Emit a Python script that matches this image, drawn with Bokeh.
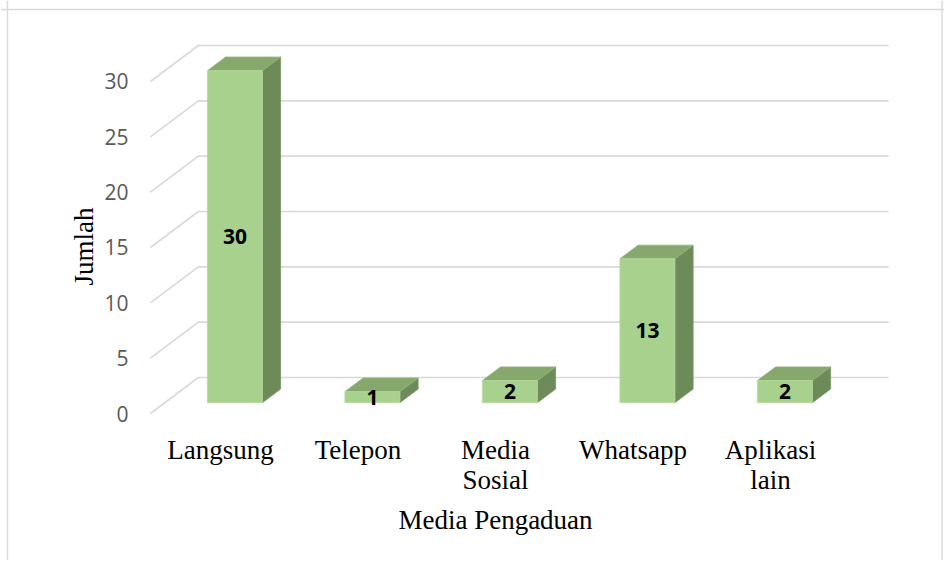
import numpy as np
from bokeh.plotting import figure
from bokeh.models import Range1d, Span
from bokeh.core.properties import value
from bokeh.embed import file_html
from bokeh.resources import INLINE

# ---- data ----
categories = ["Langsung", "Telepon", "Media\nSosial", "Whatsapp", "Aplikasi\nlain"]
jumlah = [30, 1, 2, 13, 2]
y_ticks = [0, 5, 10, 15, 20, 25, 30]
y_title = "Jumlah"
x_title = "Media Pengaduan"

# ---- layout (pixel calibration of the oblique 3D projection) ----
W, H = 944, 560
OFF = 0                 # bokeh page has no body margin
PX_X = 137.5            # px per category
PX_Y = 11.0667          # px per unit of value
X0_IMG, Y0_IMG = 220, 413


def ix(px):
    return (px - X0_IMG) / PX_X


def vy(py):
    return (Y0_IMG - py) / PX_Y


DX = 48 / PX_X          # full depth, in data units
DY = 36 / PX_Y
F_D, B_D = 0.30, 0.68   # bar front/back depth fractions
HW = 0.2                # half bar width
XL, XR = -0.51, 4.51

p = figure(width=W, height=H, output_backend="svg", toolbar_location=None,
           x_range=Range1d(ix(OFF), ix(OFF + W)),
           y_range=Range1d(vy(OFF + H), vy(OFF)),
           min_border=0, min_border_left=0, min_border_right=0,
           min_border_top=0, min_border_bottom=0)
p.axis.visible = False
p.grid.visible = False
p.outline_line_color = None
p.background_fill_color = "white"
p.border_fill_color = "white"

# chart border (left, top, right)
bc = "#d9d9d9"
p.add_layout(Span(location=ix(7), dimension="height", line_color=bc, line_width=1.4))
p.add_layout(Span(location=vy(9), dimension="width", line_color=bc, line_width=1.4))
p.add_layout(Span(location=ix(941.5), dimension="height", line_color=bc, line_width=1.4))

# gridlines: side-wall diagonal + back wall horizontal
gx = [[XL, XL + DX, XR + DX] for t in y_ticks]
gy = [[t, t + DY, t + DY] for t in y_ticks]
p.multi_line(gx, gy, line_color="#d9d9d9", line_width=1.6)

# bars
front_xs, front_ys, top_xs, top_ys, side_xs, side_ys = [], [], [], [], [], []
lab_x, lab_y, lab_t = [], [], []
dd = B_D - F_D
for i, v in enumerate(jumlah):
    cx = i + F_D * DX
    y0 = F_D * DY
    y1 = v + F_D * DY
    l, r = cx - HW, cx + HW
    front_xs.append([l, r, r, l]); front_ys.append([y0, y0, y1, y1])
    top_xs.append([l, r, r + dd * DX, l + dd * DX]); top_ys.append([y1, y1, y1 + dd * DY, y1 + dd * DY])
    side_xs.append([r, r + dd * DX, r + dd * DX, r]); side_ys.append([y0, y0 + dd * DY, y1 + dd * DY, y1])
    lab_x.append(cx); lab_y.append(y0 + v / 2); lab_t.append(str(v))

p.patches(side_xs, side_ys, fill_color="#6d8b59", line_color="#7a9765", line_width=0.8)
p.patches(top_xs, top_ys, fill_color="#86a86d", line_color="#93b37a", line_width=0.8)
p.patches(front_xs, front_ys, fill_color="#a9d18e", line_color="#b5d99d", line_width=0.8)

# data labels
p.text(x=lab_x, y=lab_y, text=lab_t, text_align="center", text_baseline="middle",
       text_font=value("Open Sans"), text_font_style="bold", text_font_size="21px",
       text_color="black")

# y tick labels
p.text(x=[ix(128)] * len(y_ticks), y=y_ticks, text=[str(t) for t in y_ticks],
       text_align="right", text_baseline="middle", text_font=value("Open Sans"),
       text_font_size="21px", text_color="#595959")

# category labels
p.text(x=list(range(len(categories))), y=[vy(434)] * len(categories), text=categories,
       text_align="center", text_baseline="top", text_font=value("Liberation Serif"),
       text_font_size="27px", text_color="black", text_line_height=1.02)

# axis titles
p.text(x=[(XL + XR) / 2], y=[vy(504)], text=[x_title], text_align="center",
       text_baseline="top", text_font=value("Liberation Serif"), text_font_size="27px",
       text_color="black")
p.text(x=[ix(83)], y=[vy(246)], text=[y_title], angle=np.pi / 2, text_align="center",
       text_baseline="middle", text_font=value("Liberation Serif"), text_font_size="27px",
       text_color="black")

open("out.html", "w").write(file_html(p, INLINE))
